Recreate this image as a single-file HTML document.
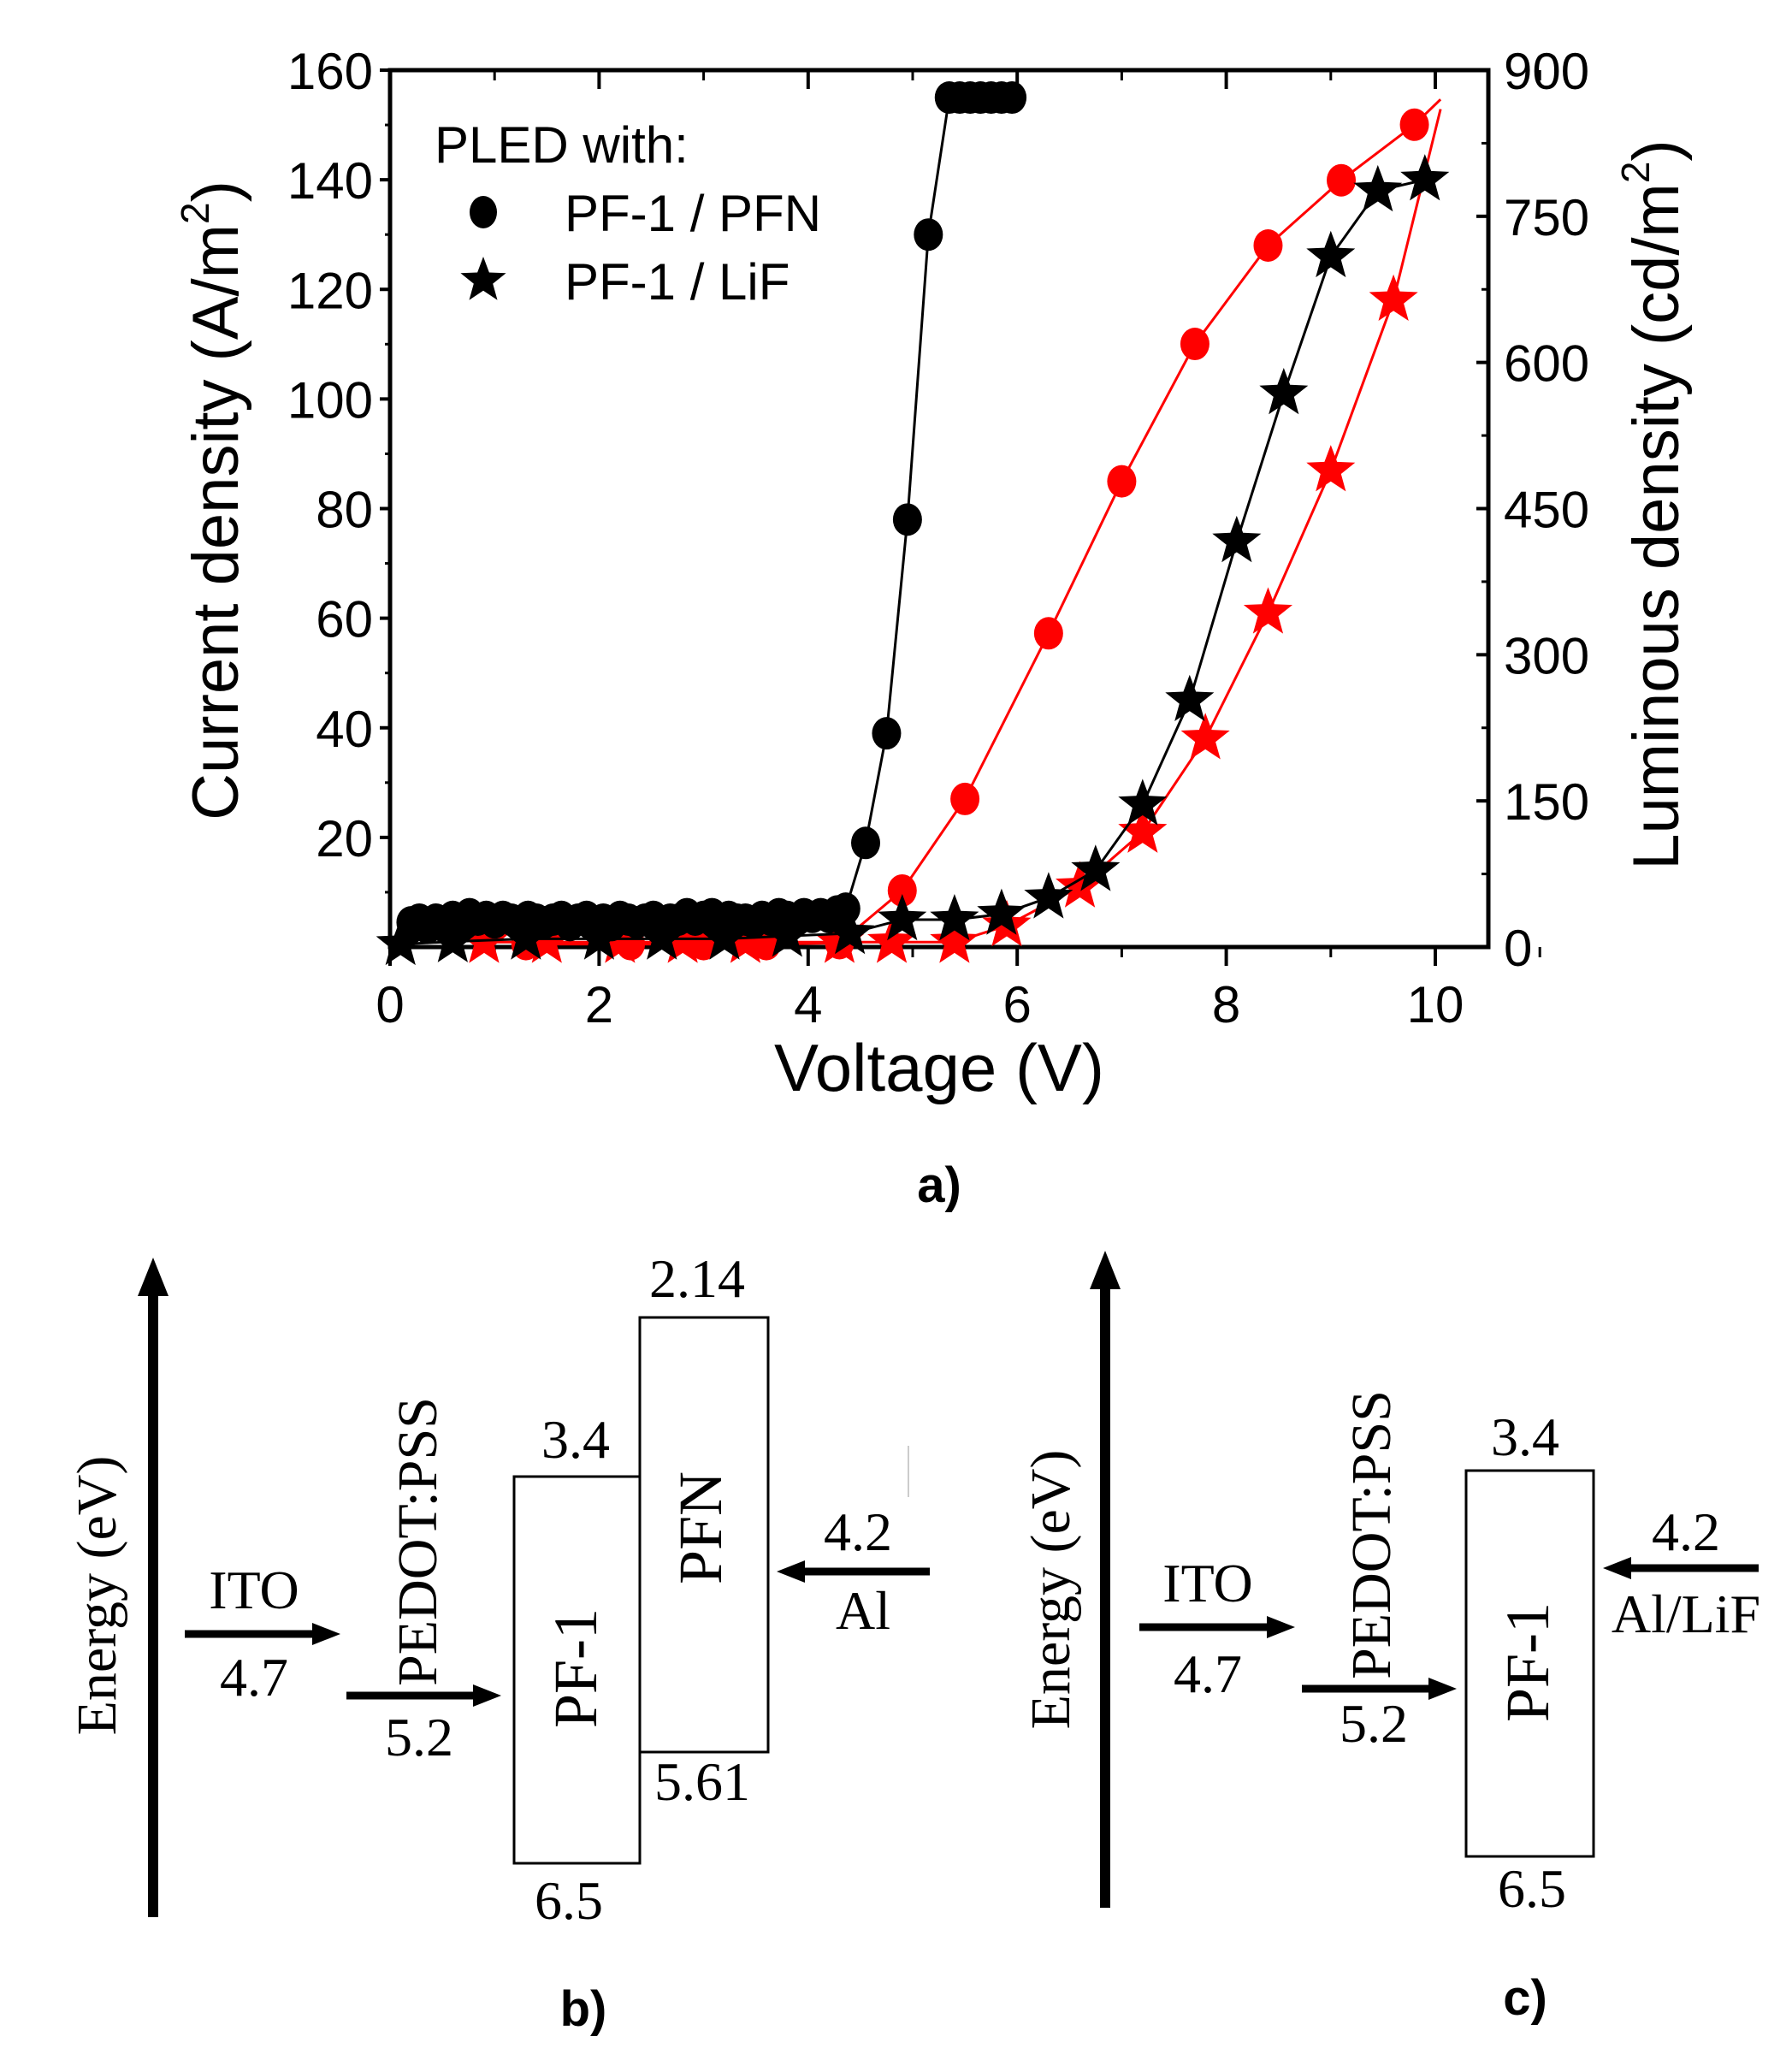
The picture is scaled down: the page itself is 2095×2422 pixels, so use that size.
<!DOCTYPE html>
<html><head><meta charset="utf-8"><style>
html,body{margin:0;padding:0;background:#fff}
svg{display:block}
.tk{font-family:"Liberation Sans",Arial,sans-serif;font-size:60px;fill:#000}
.tm{font-family:"Liberation Serif","Times New Roman",serif;font-size:64px;fill:#000}
.tr{font-family:"Liberation Serif","Times New Roman",serif;font-size:66px;fill:#000}
.tb{font-family:"Liberation Serif","Times New Roman",serif;font-size:72px;fill:#000}
.lb{font-family:"Liberation Sans",sans-serif;font-size:58px;font-weight:bold;fill:#000}
</style></head><body>
<svg id="fig" width="2095" height="2422" viewBox="0 0 2095 2422" xmlns="http://www.w3.org/2000/svg">
<g id="chart"></g>
<text class="lb" x="1098" y="1405" text-anchor="middle">a)</text>

<g>
<line x1="179" y1="2241" x2="179" y2="1510" stroke="#000" stroke-width="12"/>
<polygon points="179,1470 161,1515 197,1515" fill="#000"/>
<text class="tr" transform="translate(135,1865) rotate(-90)" text-anchor="middle">Energy (eV)</text>
<text class="tm" x="297" y="1880" text-anchor="middle">ITO</text>
<line x1="216" y1="1910" x2="370" y2="1910" stroke="#000" stroke-width="9"/>
<polygon points="398,1910 365,1897 365,1923" fill="#000"/>
<text class="tm" x="297" y="1982" text-anchor="middle">4.7</text>
<text class="tr" transform="translate(510,1802) rotate(-90)" text-anchor="middle">PEDOT:PSS</text>
<line x1="405" y1="1982" x2="558" y2="1982" stroke="#000" stroke-width="9"/>
<polygon points="586,1982 553,1969 553,1995" fill="#000"/>
<text class="tm" x="490" y="2052" text-anchor="middle">5.2</text>
<rect x="601" y="1726" width="147" height="452" fill="none" stroke="#000" stroke-width="3"/>
<rect x="748" y="1540" width="150" height="508" fill="none" stroke="#000" stroke-width="3"/>
<text class="tm" x="673" y="1704" text-anchor="middle">3.4</text>
<text class="tm" x="815" y="1516" text-anchor="middle">2.14</text>
<text class="tm" x="821" y="2104" text-anchor="middle">5.61</text>
<text class="tm" x="665" y="2243" text-anchor="middle">6.5</text>
<text class="tb" transform="translate(697,1950) rotate(-90)" text-anchor="middle">PF-1</text>
<text class="tb" transform="translate(843,1786) rotate(-90)" text-anchor="middle">PFN</text>
<line x1="1087" y1="1837" x2="935" y2="1837" stroke="#000" stroke-width="9"/>
<polygon points="908,1837 941,1824 941,1850" fill="#000"/>
<text class="tm" x="1003" y="1812" text-anchor="middle">4.2</text>
<text class="tm" x="1009" y="1904" text-anchor="middle">Al</text>
<line x1="1062" y1="1690" x2="1062" y2="1750" stroke="#ccc" stroke-width="2"/>
</g>
<text class="lb" x="682" y="2368" text-anchor="middle">b)</text>

<g>
<line x1="1292" y1="2230" x2="1292" y2="1502" stroke="#000" stroke-width="12"/>
<polygon points="1292,1462 1274,1507 1310,1507" fill="#000"/>
<text class="tr" transform="translate(1250,1858) rotate(-90)" text-anchor="middle">Energy (eV)</text>
<text class="tm" x="1412" y="1872" text-anchor="middle">ITO</text>
<line x1="1332" y1="1902" x2="1486" y2="1902" stroke="#000" stroke-width="9"/>
<polygon points="1514,1902 1481,1889 1481,1915" fill="#000"/>
<text class="tm" x="1412" y="1978" text-anchor="middle">4.7</text>
<text class="tr" transform="translate(1625,1794) rotate(-90)" text-anchor="middle">PEDOT:PSS</text>
<line x1="1522" y1="1974" x2="1675" y2="1974" stroke="#000" stroke-width="9"/>
<polygon points="1703,1974 1670,1961 1670,1987" fill="#000"/>
<text class="tm" x="1606" y="2036" text-anchor="middle">5.2</text>
<rect x="1714" y="1719" width="149" height="451" fill="none" stroke="#000" stroke-width="3"/>
<text class="tm" x="1783" y="1701" text-anchor="middle">3.4</text>
<text class="tm" x="1791" y="2229" text-anchor="middle">6.5</text>
<text class="tb" transform="translate(1810,1943) rotate(-90)" text-anchor="middle">PF-1</text>
<line x1="2056" y1="1833" x2="1901" y2="1833" stroke="#000" stroke-width="9"/>
<polygon points="1874,1833 1907,1820 1907,1846" fill="#000"/>
<text class="tm" x="1971" y="1812" text-anchor="middle">4.2</text>
<text class="tm" x="1971" y="1908" text-anchor="middle">Al/LiF</text>
</g>
<text class="lb" x="1783" y="2355" text-anchor="middle">c)</text>
</svg>
<script>
const xTicks=[0,2,4,6,8,10];
const yLeftTicks=[20,40,60,80,100,120,140,160];
const yRightTicks=[0,150,300,450,600,750,900];
// PF-1/PFN current density (A/m2), black circles
const pfnJV_V=[0.2,0.28,0.36,0.44,0.52,0.6,0.68,0.76,0.84,0.92,1.0,1.08,1.16,1.24,1.32,1.4,1.48,1.56,1.64,1.72,1.8,1.88,1.96,2.04,2.12,2.2,2.28,2.36,2.44,2.52,2.6,2.68,2.76,2.84,2.92,3.0,3.08,3.16,3.24,3.32,3.4,3.48,3.56,3.64,3.72,3.8,3.88,3.96,4.04,4.12,4.2,4.28,4.36,4.55,4.75,4.95,5.15,5.35,5.45,5.55,5.65,5.75,5.85,5.95];
const pfnJV_J=[4.5,5,3.5,5,4,5.5,4,6,5,5.5,4.5,5.5,5,4,5.5,5,4.5,5,5.5,4,5,5.5,4.5,5,4,5.5,5,4.5,5,5.5,4.5,5,5,6,5,5.5,6,4.5,5.5,5,5,4.5,5.5,5,6,5.5,5,6,5.5,6,5.5,6.5,7,19,39,78,130,155,155,155,155,155,155,155];
// PF-1/LiF current density, black stars
const lifJV_V=[0.1,0.6,1.3,2.0,2.6,3.2,3.8,4.4,4.9,5.4,5.85,6.3,6.75,7.2,7.65,8.1,8.55,9.0,9.45,9.9];
const lifJV_J=[0.5,1,1.5,1.5,1.5,1.5,2,2.5,5,5,6,9,14,26,45,74,101,126,138,140];
// PF-1/PFN luminance (cd/m2), red circles
const pfnL_V=[1.3,2.3,3.0,3.6,4.3,4.9,5.5,6.3,7.0,7.7,8.4,9.1,9.8];
const pfnL_L=[3,3,3,3,4,58,152,322,478,619,720,787,844];
// PF-1/LiF luminance, red stars
const lifL_V=[0.9,1.5,2.2,2.8,3.4,4.3,4.8,5.4,5.9,6.6,7.2,7.8,8.4,9.0,9.6];
const lifL_L=[5,5,5,5,5,5,5,5,22,62,118,214,343,489,664];
const lineEndV=[10.05];
const pfnL_end=[870];
const lifL_end=[860];

const NS='http://www.w3.org/2000/svg';
const g=document.getElementById('chart');
const X0=456,X10=1678,YB=1107,YT=82,XR=1740;
const xs=v=>X0+(X10-X0)*v/10;
const yl=j=>YB-(YB-YT)*j/160;
const yr=l=>YB-(YB-YT)*l/900;
function mk(tag,attrs){const e=document.createElementNS(NS,tag);for(const k in attrs)e.setAttribute(k,attrs[k]);g.appendChild(e);return e;}

let e=mk('rect',{x:X0,y:YT,width:XR-X0,height:YB-YT,fill:'none',stroke:'#000','stroke-width':5});


xTicks.forEach(t=>{
  let l=mk('line',{x1:xs(t),y1:YB,x2:xs(t),y2:YB+22,stroke:'#000','stroke-width':4});
  
  
  mk('line',{x1:xs(t),y1:YT,x2:xs(t),y2:YT+22,stroke:'#000','stroke-width':4});
  mk('line',{x1:xs(t+1),y1:YB,x2:xs(t+1),y2:YB+12,stroke:'#000','stroke-width':3});
  mk('line',{x1:xs(t+1),y1:YT,x2:xs(t+1),y2:YT+12,stroke:'#000','stroke-width':3});
  let tx=mk('text',{x:xs(t),y:YB+88,'text-anchor':'middle',class:'tk'});
  tx.textContent=t;
  
  
});
yLeftTicks.forEach(t=>{
  mk('line',{x1:X0-12,y1:yl(t),x2:X0,y2:yl(t),stroke:'#000','stroke-width':4});
  mk('line',{x1:X0-6,y1:yl(t-10),x2:X0,y2:yl(t-10),stroke:'#000','stroke-width':3});
  let tx=mk('text',{x:X0-20,y:yl(t)+22,'text-anchor':'end',class:'tk'});
  tx.textContent=t;
  
  
});
yRightTicks.forEach(t=>{
  mk('line',{x1:XR,y1:yr(t),x2:XR-14,y2:yr(t),stroke:'#000','stroke-width':4});
  if(t<900)mk('line',{x1:XR,y1:yr(t+75),x2:XR-8,y2:yr(t+75),stroke:'#000','stroke-width':3});
  let tx=mk('text',{x:XR+18,y:yr(t)+22,'text-anchor':'start',class:'tk'});
  tx.textContent=t;
  
  
});
let xt=mk('text',{x:1098,y:1275,'text-anchor':'middle',class:'tk',style:'font-size:78px'});
xt.textContent='Voltage (V)';


let ylT=mk('text',{transform:'translate(278,585) rotate(-90)','text-anchor':'middle',class:'tk',style:'font-size:76px'});
ylT.innerHTML='Current density (A/m<tspan dy="-34" style="font-size:46px">2</tspan><tspan dy="34">)</tspan>';


let yrT=mk('text',{transform:'translate(1962,590) rotate(-90)','text-anchor':'middle',class:'tk',style:'font-size:76px'});
yrT.innerHTML='Luminous density (cd/m<tspan dy="-34" style="font-size:46px">2</tspan><tspan dy="34">)</tspan>';



function star(cx,cy,R,fill){
  let p=[];for(let i=0;i<10;i++){const r=i%2?R*0.42:R;const a=-Math.PI/2+i*Math.PI/5;p.push((cx+r*Math.cos(a)).toFixed(1)+','+(cy+r*Math.sin(a)).toFixed(1));}
  return mk('polygon',{points:p.join(' '),fill:fill});
}
function series(V,Y,ysc,color,shape,name,endV,endY){
  let pts=V.map((v,i)=>xs(v)+','+ysc(Y[i]));
  if(endV)pts.push(xs(endV[0])+','+ysc(endY[0]));
  let pl=mk('polyline',{points:pts.join(' '),fill:'none',stroke:color,'stroke-width':3});
  
  
  V.forEach((v,i)=>{
    let m=shape==='c'?mk('ellipse',{cx:xs(v),cy:ysc(Y[i]),rx:17,ry:19,fill:color}):star(xs(v),ysc(Y[i]),30,color);
    
    
  });
}
series(lifL_V,lifL_L,yr,'#ff0000','s','lif-luminance',lineEndV,lifL_end);
series(pfnL_V,pfnL_L,yr,'#ff0000','c','pfn-luminance',lineEndV,pfnL_end);
series(lifJV_V,lifJV_J,yl,'#000','s','lif-current');
series(pfnJV_V,pfnJV_J,yl,'#000','c','pfn-current');

let lg=mk('text',{x:508,y:190,class:'tk'});
lg.textContent='PLED with:';


let lc=mk('ellipse',{cx:565,cy:248,rx:16,ry:19,fill:'#000'});


let l1=mk('text',{x:660,y:270,class:'tk'});
l1.textContent='PF-1 / PFN';


let ls=star(565,328,28,'#000');


let l2=mk('text',{x:660,y:350,class:'tk'});
l2.textContent='PF-1 / LiF';


</script>
</body></html>
